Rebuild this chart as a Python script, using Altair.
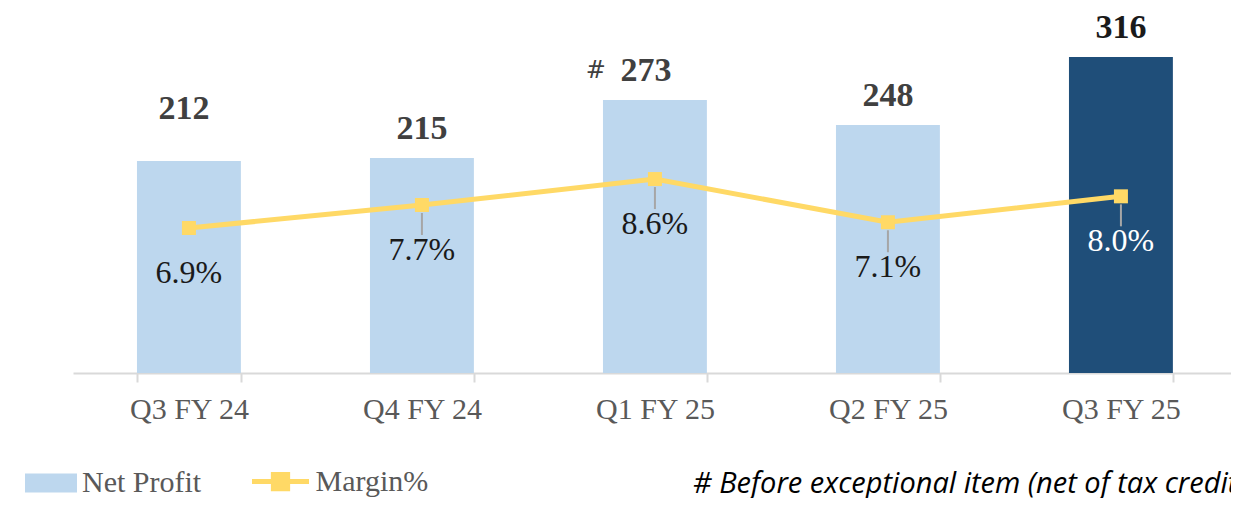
import altair as alt
import pandas as pd

quarters = ["Q3 FY 24", "Q4 FY 24", "Q1 FY 25", "Q2 FY 25", "Q3 FY 25"]
net_profit = [212, 215, 273, 248, 316]
margin_pct = [6.9, 7.7, 8.6, 7.1, 8.0]
profit_labels = ["212", "215", "273", "248", "316"]
label_marks = ["", "", "#", "", ""]
footnote = "# Before exceptional item (net of tax credit)"

df = pd.DataFrame({
    "quarter": quarters,
    "profit": net_profit,
    "margin": margin_pct,
    "plabel": profit_labels,
    "mark": label_marks,
    "mlabel": [f"{m:.1f}%" for m in margin_pct],
    "series": ["Net Profit"] * 5,
    "series2": ["Margin%"] * 5,
})

SERIF = "Liberation Serif"
LAST = "datum.quarter == 'Q3 FY 25'"
FIRST = "datum.quarter == 'Q3 FY 24'"
HASH = "datum.mark == '#'"

x = alt.X(
    "quarter:N", sort=quarters, title=None,
    scale=alt.Scale(paddingInner=0.554, paddingOuter=0.262, align=0.524),
    axis=alt.Axis(
        labelFont=SERIF, labelFontSize=30, labelColor="#595959", labelAngle=0,
        domainColor="#D9D9D9", domainWidth=2, tickColor="#D9D9D9", tickWidth=2,
        tickSize=9, tickBand="extent", labelPadding=12, grid=False,
    ),
)
y_bar = alt.Y("profit:Q", scale=alt.Scale(domain=[0, 365], nice=False), axis=None)
y_m = alt.Y("margin:Q", scale=alt.Scale(domain=[1.865, 14.54], nice=False, zero=False), axis=None)

base = alt.Chart(df)

bars = base.mark_bar().encode(
    x=x, y=y_bar,
    fill=alt.condition(
        LAST, alt.value("#1F4E79"),
        alt.Fill("series:N", scale=alt.Scale(domain=["Net Profit"], range=["#BDD7EE"]),
                 legend=alt.Legend(
                     title=None, orient="none", legendX=-48, legendY=449,
                     symbolType="M-1,-0.365H1V0.365H-1Z", symbolSize=2704,
                     symbolStrokeWidth=0, labelFont=SERIF, labelFontSize=30,
                     labelColor="#595959", labelOffset=5, padding=0,
                 )),
    ),
)

bar_text = base.mark_text(font=SERIF, fontSize=34, fontWeight="bold", baseline="middle", dy=-29).encode(
    x=x, y=y_bar, text="plabel:N",
    color=alt.condition(LAST, alt.value("#1a1a1a"), alt.value("#404040")),
).transform_filter(f"!({FIRST}) && !({HASH})")

bar_text_hash = base.mark_text(font=SERIF, fontSize=34, fontWeight="bold", baseline="middle", dy=-29, dx=-9, color="#404040").encode(
    x=x, y=y_bar, text="plabel:N",
).transform_filter(HASH)

bar_text_first = base.mark_text(font=SERIF, fontSize=34, fontWeight="bold", baseline="middle", dy=-52, dx=-5, color="#404040").encode(
    x=x, y=y_bar, text="plabel:N",
).transform_filter(FIRST)

hash_text = base.mark_text(font="DejaVu Sans", fontSize=24, baseline="middle", align="right", dx=-49, dy=-29, color="#404040").encode(
    x=x, y=y_bar, text="mark:N",
)

line = base.mark_line(strokeWidth=5).encode(
    x=x, y=y_m,
    stroke=alt.Stroke("series2:N", scale=alt.Scale(domain=["Margin%"], range=["#FFD966"]),
                      legend=alt.Legend(
                          title=None, orient="none", legendX=176.5, legendY=442.5,
                          symbolType="M-1,0H1M-0.25,-0.25H0.25V0.25H-0.25Z", symbolSize=3249,
                          symbolStrokeWidth=5, symbolFillColor="#FFD966",
                          labelFont=SERIF, labelFontSize=30, labelColor="#595959",
                          labelOffset=4, padding=0,
                      )),
)

squares = base.mark_square(size=196, color="#FFD966", opacity=1).encode(x=x, y=y_m)

leaders = base.mark_rule(color="#A6A6A6", strokeWidth=2, yOffset=8, y2Offset=30).encode(
    x=x, y=y_m, y2=alt.Y2("margin:Q"),
).transform_filter(f"!({FIRST})")

m_text = base.mark_text(font=SERIF, fontSize=32, baseline="middle", dy=45).encode(
    x=x, y=y_m, text="mlabel:N",
    color=alt.condition(LAST, alt.value("#FFFFFF"), alt.value("#1a1a1a")),
)

foot = alt.Chart(pd.DataFrame({"t": [footnote]})).mark_text(
    font="Open Sans", fontStyle="italic", fontSize=29, align="left", baseline="middle", color="#000000"
).encode(x=alt.value(620), y=alt.value(476), text="t:N")

chart = alt.layer(
    bars, line, squares, leaders, bar_text, bar_text_hash, bar_text_first, hash_text, m_text, foot
).resolve_scale(y="independent").properties(
    width=1158, height=365,
    autosize=alt.AutoSizeParams(type="none"),
    padding={"left": 65, "top": 0, "right": 0, "bottom": 125},
    background="white",
).configure_view(stroke=None)

chart.save("out.html", embed_options={"renderer": "svg", "actions": False})
